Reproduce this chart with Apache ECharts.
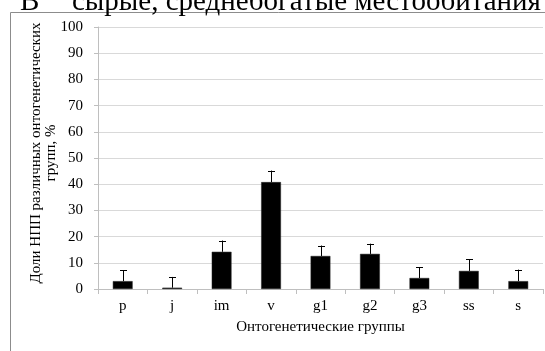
<!DOCTYPE html>
<html>
<head>
<meta charset="utf-8">
<script src="https://cdn.jsdelivr.net/npm/echarts@6/dist/echarts.min.js"></script>
<style>
  html, body { margin: 0; padding: 0; background: #fff; }
  #chart { width: 545px; height: 351px; }
</style>
</head>
<body>
<div id="chart"></div>
<script>
// Ontogenetic groups and their shares (%) with the upper error margin
const groups = ['p', 'j', 'im', 'v', 'g1', 'g2', 'g3', 'ss', 's'];
const shares = [3.0, 0.5, 14.2, 40.8, 12.6, 13.4, 4.2, 6.9, 3.0];
const errors = [4.2, 4.1, 4.3, 4.4, 4.0, 3.9, 4.2, 4.4, 4.4];
const yTicks = [0, 10, 20, 30, 40, 50, 60, 70, 80, 90, 100];

const serif = '"Liberation Serif", "Times New Roman", serif';

const chart = echarts.init(document.getElementById('chart'), null, { renderer: 'canvas' });

chart.setOption({
  animation: false,
  backgroundColor: '#fff',
  textStyle: { fontFamily: serif },
  graphic: [
    {
      type: 'rect',
      shape: { x: 10.5, y: 12.5, width: 600, height: 400 },
      style: { fill: 'none', stroke: '#8c8c8c', lineWidth: 1 },
      silent: true
    },
    {
      type: 'text',
      left: 20, top: -12,
      style: { text: 'В', font: '29px ' + serif, fill: '#000' }
    },
    {
      type: 'text',
      left: 72, top: -12,
      style: { text: 'сырые, среднебогатые местообитания', font: '29px ' + serif, fill: '#000' }
    }
  ],
  grid: { left: 98, right: 2, top: 27, bottom: 62 },
  xAxis: {
    type: 'category',
    data: groups,
    name: 'Онтогенетические группы',
    nameLocation: 'middle',
    nameGap: 31,
    nameTextStyle: { fontFamily: serif, fontSize: 15, color: '#000' },
    axisLine: { lineStyle: { color: '#bfbfbf' } },
    axisTick: { show: true, length: 5, lineStyle: { color: '#bfbfbf' } },
    axisLabel: { fontFamily: serif, fontSize: 15, color: '#000', margin: 10 }
  },
  yAxis: {
    type: 'value',
    min: yTicks[0],
    max: yTicks[yTicks.length - 1],
    interval: yTicks[1] - yTicks[0],
    name: 'Доли НПП различных онтогенетических\nгрупп, %',
    nameLocation: 'middle',
    nameRotate: 90,
    nameGap: 39,
    nameMoveOverlap: false,
    nameTextStyle: { fontFamily: serif, fontSize: 15, color: '#000', lineHeight: 15, padding: [0, 0, 0, 10] },
    axisLine: { show: true, lineStyle: { color: '#bfbfbf' } },
    axisTick: { show: true, length: 4, lineStyle: { color: '#bfbfbf' } },
    splitLine: { lineStyle: { color: '#d9d9d9' } },
    axisLabel: { fontFamily: serif, fontSize: 15, color: '#000', margin: 15 }
  },
  series: [
    {
      type: 'bar',
      data: shares,
      barWidth: '40%',
      itemStyle: { color: '#000', borderColor: '#222', borderWidth: 0.5 }
    },
    {
      type: 'custom',
      data: shares.map((v, i) => [i, v, v + errors[i]]),
      z: 5,
      renderItem: function (params, api) {
        const base = api.coord([api.value(0), api.value(1)]);
        const top = api.coord([api.value(0), api.value(2)]);
        const x = Math.round(base[0]) + 0.5;
        const cap = 3.5;
        return {
          type: 'group',
          children: [
            { type: 'line', shape: { x1: x, y1: base[1], x2: x, y2: top[1] },
              style: { stroke: '#000', lineWidth: 1 } },
            { type: 'line', shape: { x1: x - cap, y1: Math.round(top[1]) + 0.5, x2: x + cap, y2: Math.round(top[1]) + 0.5 },
              style: { stroke: '#000', lineWidth: 1 } }
          ]
        };
      }
    }
  ]
});
</script>
</body>
</html>
